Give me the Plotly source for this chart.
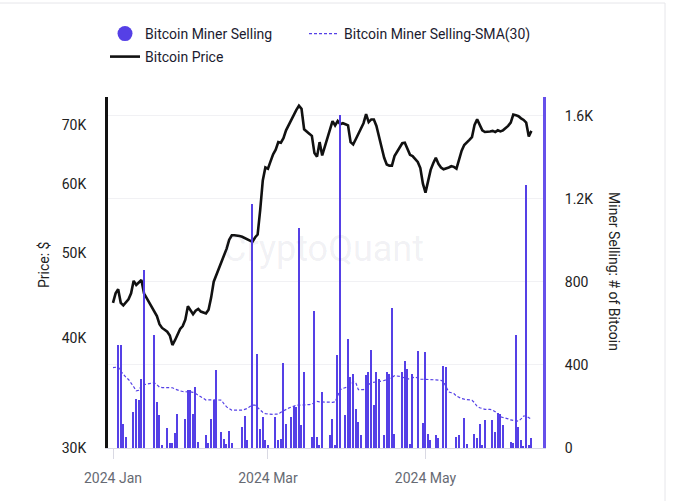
import math
import pandas as pd
import plotly.graph_objects as go

# ---------------- data ----------------
start_date = "2024-01-01"

price_k = [
    43.9, 45.0, 45.5, 43.9, 43.6, 44.0, 44.3, 45.0, 46.5, 46.0,
    46.3, 46.6, 45.0, 44.5, 44.0, 43.4, 42.9, 42.4, 41.5, 41.1,
    40.9, 40.7, 40.3, 39.3, 39.8, 40.5, 41.0, 41.3, 42.0, 43.5,
    43.0, 42.6, 43.0, 43.2, 42.9, 42.8, 42.7, 43.1, 44.5, 46.4,
    47.2, 48.0, 48.8, 49.5, 50.6, 51.8, 52.4, 52.4, 52.4, 52.3,
    52.2, 52.0, 51.8, 51.6, 51.5, 52.1, 52.5, 56.0, 60.5, 62.6,
    62.4, 63.6, 64.8, 65.6, 66.9, 66.8, 67.6, 69.0, 70.0, 70.8,
    72.0, 72.8, 73.6, 73.0, 69.2, 68.7, 68.4, 68.0, 65.0, 64.4,
    66.9, 64.6, 66.0, 67.6, 69.2, 70.7, 69.9, 70.7, 70.1, 70.3,
    70.1, 69.9, 66.9, 66.5, 67.4, 68.3, 69.3, 70.3, 72.0, 70.5,
    71.0, 71.0, 69.8, 67.6, 66.0, 64.2, 63.1, 62.9, 62.9, 64.5,
    65.3, 66.1, 66.7, 66.8, 65.8, 64.7, 64.5, 64.0, 63.5, 62.5,
    60.0, 58.6, 60.6, 62.2, 63.3, 64.2, 63.2, 62.6, 62.3, 62.4,
    62.6, 62.8, 62.7, 62.4, 63.8, 65.4, 66.4, 66.8, 67.3, 67.8,
    70.0, 71.0, 70.0, 69.0, 68.7, 68.7, 68.8, 68.9, 68.7, 69.0,
    68.8, 69.0, 69.4, 69.8, 70.4, 71.9, 71.8, 71.6, 71.2, 70.9,
    70.4, 67.9, 68.9,
]

miner_selling = [
    0, 0, 495, 495, 117, 53, 0, 0, 174, 238,
    233, 334, 856, 0, 0, 0, 543, 222, 157, 13,
    0, 96, 24, 24, 72, 162, 0, 0, 141, 281,
    278, 162, 294, 29, 0, 0, 61, 24, 141, 230,
    374, 0, 77, 45, 18, 82, 24, 0, 0, 0,
    101, 153, 40, 0, 1175, 0, 451, 93, 150, 37,
    13, 0, 0, 150, 37, 45, 410, 117, 0, 150,
    201, 198, 1057, 109, 366, 0, 0, 53, 660, 53,
    16, 270, 0, 0, 61, 141, 13, 450, 1604, 0,
    157, 527, 342, 358, 190, 125, 61, 0, 350, 366,
    471, 205, 366, 334, 0, 61, 366, 358, 672, 69,
    0, 0, 366, 419, 382, 21, 358, 0, 468, 0,
    122, 463, 69, 40, 0, 64, 48, 0, 395, 390,
    0, 0, 0, 53, 61, 0, 145, 21, 0, 0,
    69, 48, 117, 16, 133, 0, 0, 133, 77, 170,
    165, 109, 0, 0, 29, 26, 546, 101, 37, 8,
    1266, 13, 48,
]

miner_selling_sma30 = [
    387, 389, 390, 370, 352, 340, 330, 315, 295, 275,
    278, 300, 306, 308, 310, 312, 314, 305, 293, 291,
    291, 291, 291, 290, 284, 278, 275, 272, 270, 270,
    270, 268, 262, 254, 244, 236, 231, 232, 233, 233,
    232, 231, 230, 212, 198, 190, 182, 182, 182, 182,
    182, 186, 190, 200, 206, 206, 195, 182, 172, 165,
    163, 161, 162, 163, 163, 172, 180, 186, 192, 197,
    202, 206, 206, 206, 207, 208, 209, 212, 220, 224,
    222, 221, 220, 219, 219, 220, 222, 250, 280, 287,
    291, 294, 305, 318, 315, 281, 281, 281, 286, 305,
    315, 318, 318, 320, 321, 325, 330, 334, 340, 348,
    348, 345, 342, 336, 331, 335, 340, 342, 336, 331,
    331, 331, 331, 330, 329, 328, 327, 326, 318, 290,
    270, 266, 262, 250, 243, 238, 235, 233, 231, 230,
    218, 200, 194, 189, 186, 186, 186, 182, 175, 163,
    150, 147, 145, 140, 135, 133, 131, 129, 140, 154,
    154, 146, 138,
]

dates = pd.date_range(start_date, periods=len(price_k), freq="D")
price = [v * 1000 for v in price_k]

price_tick_vals = [30000, 40000, 50000, 60000, 70000]
price_tick_text = ["30K", "40K", "50K", "60K", "70K"]
sell_tick_vals = [0, 400, 800, 1200, 1600]
sell_tick_text = ["0", "400", "800", "1.2K", "1.6K"]
x_tick_vals = ["2024-01-01", "2024-03-01", "2024-05-01"]
x_tick_text = ["2024 Jan", "2024 Mar", "2024 May"]

# ---------------- styling ----------------
PURPLE = "#5540e6"
FONT = "Roboto"

# plot-area geometry in pixels (used for paper placement of extras)
W, H = 690, 501
L, R, T, B = 108, 147, 97, 53
PW, PH = W - L - R, H - T - B


def px_x(px):
    return (px - L) / PW


def px_y(py):
    return (H - B - py) / PH


fig = go.Figure()

fig.add_trace(go.Bar(
    x=dates, y=miner_selling, yaxis="y2", name="Bitcoin Miner Selling",
    marker=dict(color=PURPLE, line=dict(width=0)),
    width=0.55 * 86400000, showlegend=False,
))
fig.add_trace(go.Scatter(
    x=dates, y=miner_selling_sma30, yaxis="y2", mode="lines",
    name="Bitcoin Miner Selling-SMA(30)",
    line=dict(color=PURPLE, width=1.2, dash="3px,2px"),
    legend="legend2",
))
fig.add_trace(go.Scatter(
    x=dates, y=price, yaxis="y", mode="lines", name="Bitcoin Price",
    line=dict(color="#111111", width=2.6),
    legend="legend3",
))
# legend proxy for the bar series (circle symbol like the reference)
fig.add_trace(go.Scatter(
    x=[None], y=[None], yaxis="y2", mode="markers",
    name="Bitcoin Miner Selling",
    marker=dict(color=PURPLE, size=15, symbol="circle"),
    legend="legend",
))

legend_font = dict(family=FONT, size=14, color="#1b1b2f")
fig.update_layout(
    width=W, height=H,
    margin=dict(l=L, r=R, t=T, b=B, autoexpand=False),
    paper_bgcolor="white", plot_bgcolor="white",
    font=dict(family=FONT, size=14, color="#222"),
    bargap=0,
    legend=dict(x=px_x(105), y=px_y(34), xanchor="left", yanchor="middle",
                orientation="h", font=legend_font, bgcolor="rgba(0,0,0,0)"),
    legend2=dict(x=px_x(304), y=px_y(34), xanchor="left", yanchor="middle",
                 orientation="h", font=legend_font, bgcolor="rgba(0,0,0,0)"),
    legend3=dict(x=px_x(105), y=px_y(57), xanchor="left", yanchor="middle",
                 orientation="h", font=legend_font, bgcolor="rgba(0,0,0,0)"),
    xaxis=dict(
        type="date",
        range=["2023-12-30 01:30", "2024-06-15 12:00"],
        tickvals=x_tick_vals, ticktext=x_tick_text,
        ticks="outside", ticklen=10, tickcolor="#d9d9e3", tickwidth=1,
        showline=True, linecolor="#d9d9e3", linewidth=1,
        showgrid=False, zeroline=False, automargin=False,
        ticklabelstandoff=7,
        tickfont=dict(family=FONT, size=14, color="#666a73"),
    ),
    yaxis=dict(
        type="log",
        range=[math.log10(30000), math.log10(75300)],
        tickvals=price_tick_vals, ticktext=price_tick_text,
        showgrid=False, zeroline=False, automargin=False,
        showline=True, linecolor="#111111", linewidth=3,
        ticks="", ticklabelstandoff=16,
        tickfont=dict(family=FONT, size=14, color="#222"),
    ),
    yaxis2=dict(
        overlaying="y", side="right",
        range=[0, 1690],
        tickvals=sell_tick_vals, ticktext=sell_tick_text,
        showgrid=True, gridcolor="#f1f1f4", gridwidth=1,
        zeroline=False, automargin=False,
        showline=True, linecolor="#6650ea", linewidth=3,
        ticks="", ticklabelstandoff=16,
        tickfont=dict(family=FONT, size=14, color="#222"),
    ),
    annotations=[
        dict(text="CryptoQuant", xref="paper", yref="paper",
             x=px_x(323), y=px_y(249), xanchor="center", yanchor="middle",
             showarrow=False,
             font=dict(family=FONT, size=36, color="rgba(60,60,110,0.08)")),
        dict(text="Price: $", xref="paper", yref="paper",
             x=px_x(44), y=px_y(265), xanchor="center", yanchor="middle",
             showarrow=False, textangle=-90,
             font=dict(family=FONT, size=14, color="#222")),
        dict(text="Miner Selling: # of Bitcoin", xref="paper", yref="paper",
             x=px_x(614), y=px_y(271), xanchor="center", yanchor="middle",
             showarrow=False, textangle=90,
             font=dict(family=FONT, size=14, color="#222")),
    ],
    shapes=[
        dict(type="rect", xref="paper", yref="paper",
             x0=px_x(-6), x1=px_x(665), y0=px_y(3), y1=px_y(520),
             line=dict(color="#e6e6ea", width=1), fillcolor="rgba(0,0,0,0)",
             layer="below"),
    ],
)

fig.write_html("out.html",
               config={"displayModeBar": False},
               post_script="document.body.style.margin='0';"
                           "document.body.style.padding='0';")
